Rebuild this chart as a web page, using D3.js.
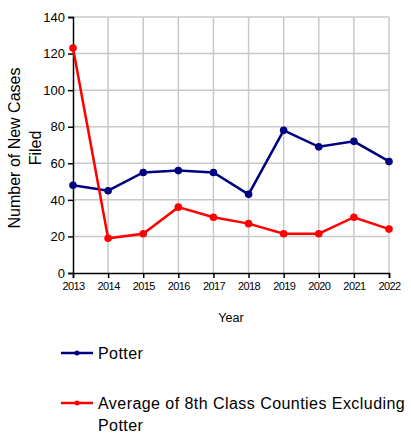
<!DOCTYPE html>
<html>
<head>
<meta charset="utf-8">
<script src="https://cdn.jsdelivr.net/npm/d3@7"></script>
<style>
  body { margin: 0; background: #fff; }
  svg { display: block; font-family: "Liberation Sans", Arial, sans-serif; }
</style>
</head>
<body>
<svg id="chart" width="411" height="434"></svg>
<script>
const years = [2013, 2014, 2015, 2016, 2017, 2018, 2019, 2020, 2021, 2022];
const potter = [48, 45, 55, 56, 55, 43, 78, 69, 72, 61];
const average = [123, 19, 21.5, 36, 30.5, 27, 21.5, 21.5, 30.5, 24];
const yTicks = [0, 20, 40, 60, 80, 100, 120, 140];
const seriesNames = ["Potter", "Average of 8th Class Counties Excluding Potter"];
const colors = ["#000080", "#ff0000"];

const margin = { top: 17, right: 22, bottom: 161, left: 73 };
const width = 411, height = 434;
const svg = d3.select('#chart');

const x = d3.scalePoint()
    .domain(years)
    .range([margin.left, width - margin.right]);
const y = d3.scaleLinear()
    .domain([0, 140])
    .range([height - margin.bottom, margin.top]);

// grid
const grid = svg.append('g').attr('stroke', '#c8c8c8').attr('stroke-width', 1.5);
grid.selectAll('.gy').data(yTicks.slice(1))
    .enter().append('line')
    .attr('x1', margin.left).attr('x2', width - margin.right)
    .attr('y1', d => y(d)).attr('y2', d => y(d));
grid.selectAll('.gx').data(years.slice(1))
    .enter().append('line')
    .attr('x1', d => x(d)).attr('x2', d => x(d))
    .attr('y1', y(0)).attr('y2', y(140));

// axes
const xAxis = svg.append('g')
    .attr('transform', `translate(0,${y(0)})`)
    .call(d3.axisBottom(x).tickSizeOuter(0).tickSize(5).tickPadding(4));
const yAxis = svg.append('g')
    .attr('transform', `translate(${margin.left},0)`)
    .call(d3.axisLeft(y).tickValues(yTicks).tickSizeOuter(0).tickSize(5).tickPadding(3));
[xAxis, yAxis].forEach(a => {
    a.select('.domain').attr('stroke', '#000').attr('stroke-width', 1.5);
    a.selectAll('.tick line').attr('stroke', '#000').attr('stroke-width', 1.5);
    a.selectAll('text').attr('fill', '#000').style('font-family', '"Liberation Sans", Arial, sans-serif');
});
xAxis.selectAll('text').style('font-size', '11px').style('letter-spacing', '-0.6px');
yAxis.selectAll('text').style('font-size', '13px');

// axis titles
svg.append('text')
    .attr('x', (margin.left + width - margin.right) / 2)
    .attr('y', 322)
    .attr('text-anchor', 'middle')
    .style('font-size', '12.5px')
    .text('Year');
const yt = svg.append('text')
    .attr('transform', `translate(20,${(y(0) + y(140)) / 2 + 3}) rotate(-90)`)
    .attr('text-anchor', 'middle')
    .style('font-size', '16px');
yt.append('tspan').attr('x', 0).attr('dy', 0).text('Number of New Cases');
yt.append('tspan').attr('x', 0).attr('dy', 21).text('Filed');

// lines
const seriesData = [potter, average];
const line = d3.line().x((d, i) => x(years[i])).y(d => y(d));
seriesData.forEach((vals, s) => {
    svg.append('path')
        .datum(vals)
        .attr('fill', 'none')
        .attr('stroke', colors[s])
        .attr('stroke-width', 2.5)
        .attr('d', line);
    svg.selectAll(null)
        .data(vals)
        .enter().append('circle')
        .attr('cx', (d, i) => x(years[i]))
        .attr('cy', d => y(d))
        .attr('r', 3.8)
        .attr('fill', colors[s]);
});

// legend
const legendY = [353, 403];
seriesNames.forEach((name, s) => {
    const g = svg.append('g').attr('transform', `translate(0,${legendY[s]})`);
    g.append('line').attr('x1', 61).attr('x2', 93).attr('y1', 0).attr('y2', 0)
        .attr('stroke', colors[s]).attr('stroke-width', 2.5);
    g.append('circle').attr('cx', 77).attr('cy', 0).attr('r', 2.5).attr('fill', colors[s]);
    const t = g.append('text').attr('x', 98).attr('y', 6)
        .style('font-size', '16px').style('letter-spacing', '0.45px');
    if (s === 1) {
        t.append('tspan').attr('x', 98).text('Average of 8th Class Counties Excluding');
        t.append('tspan').attr('x', 98).attr('dy', 22).text('Potter');
    } else {
        t.text(name);
    }
});
</script>
</body>
</html>
